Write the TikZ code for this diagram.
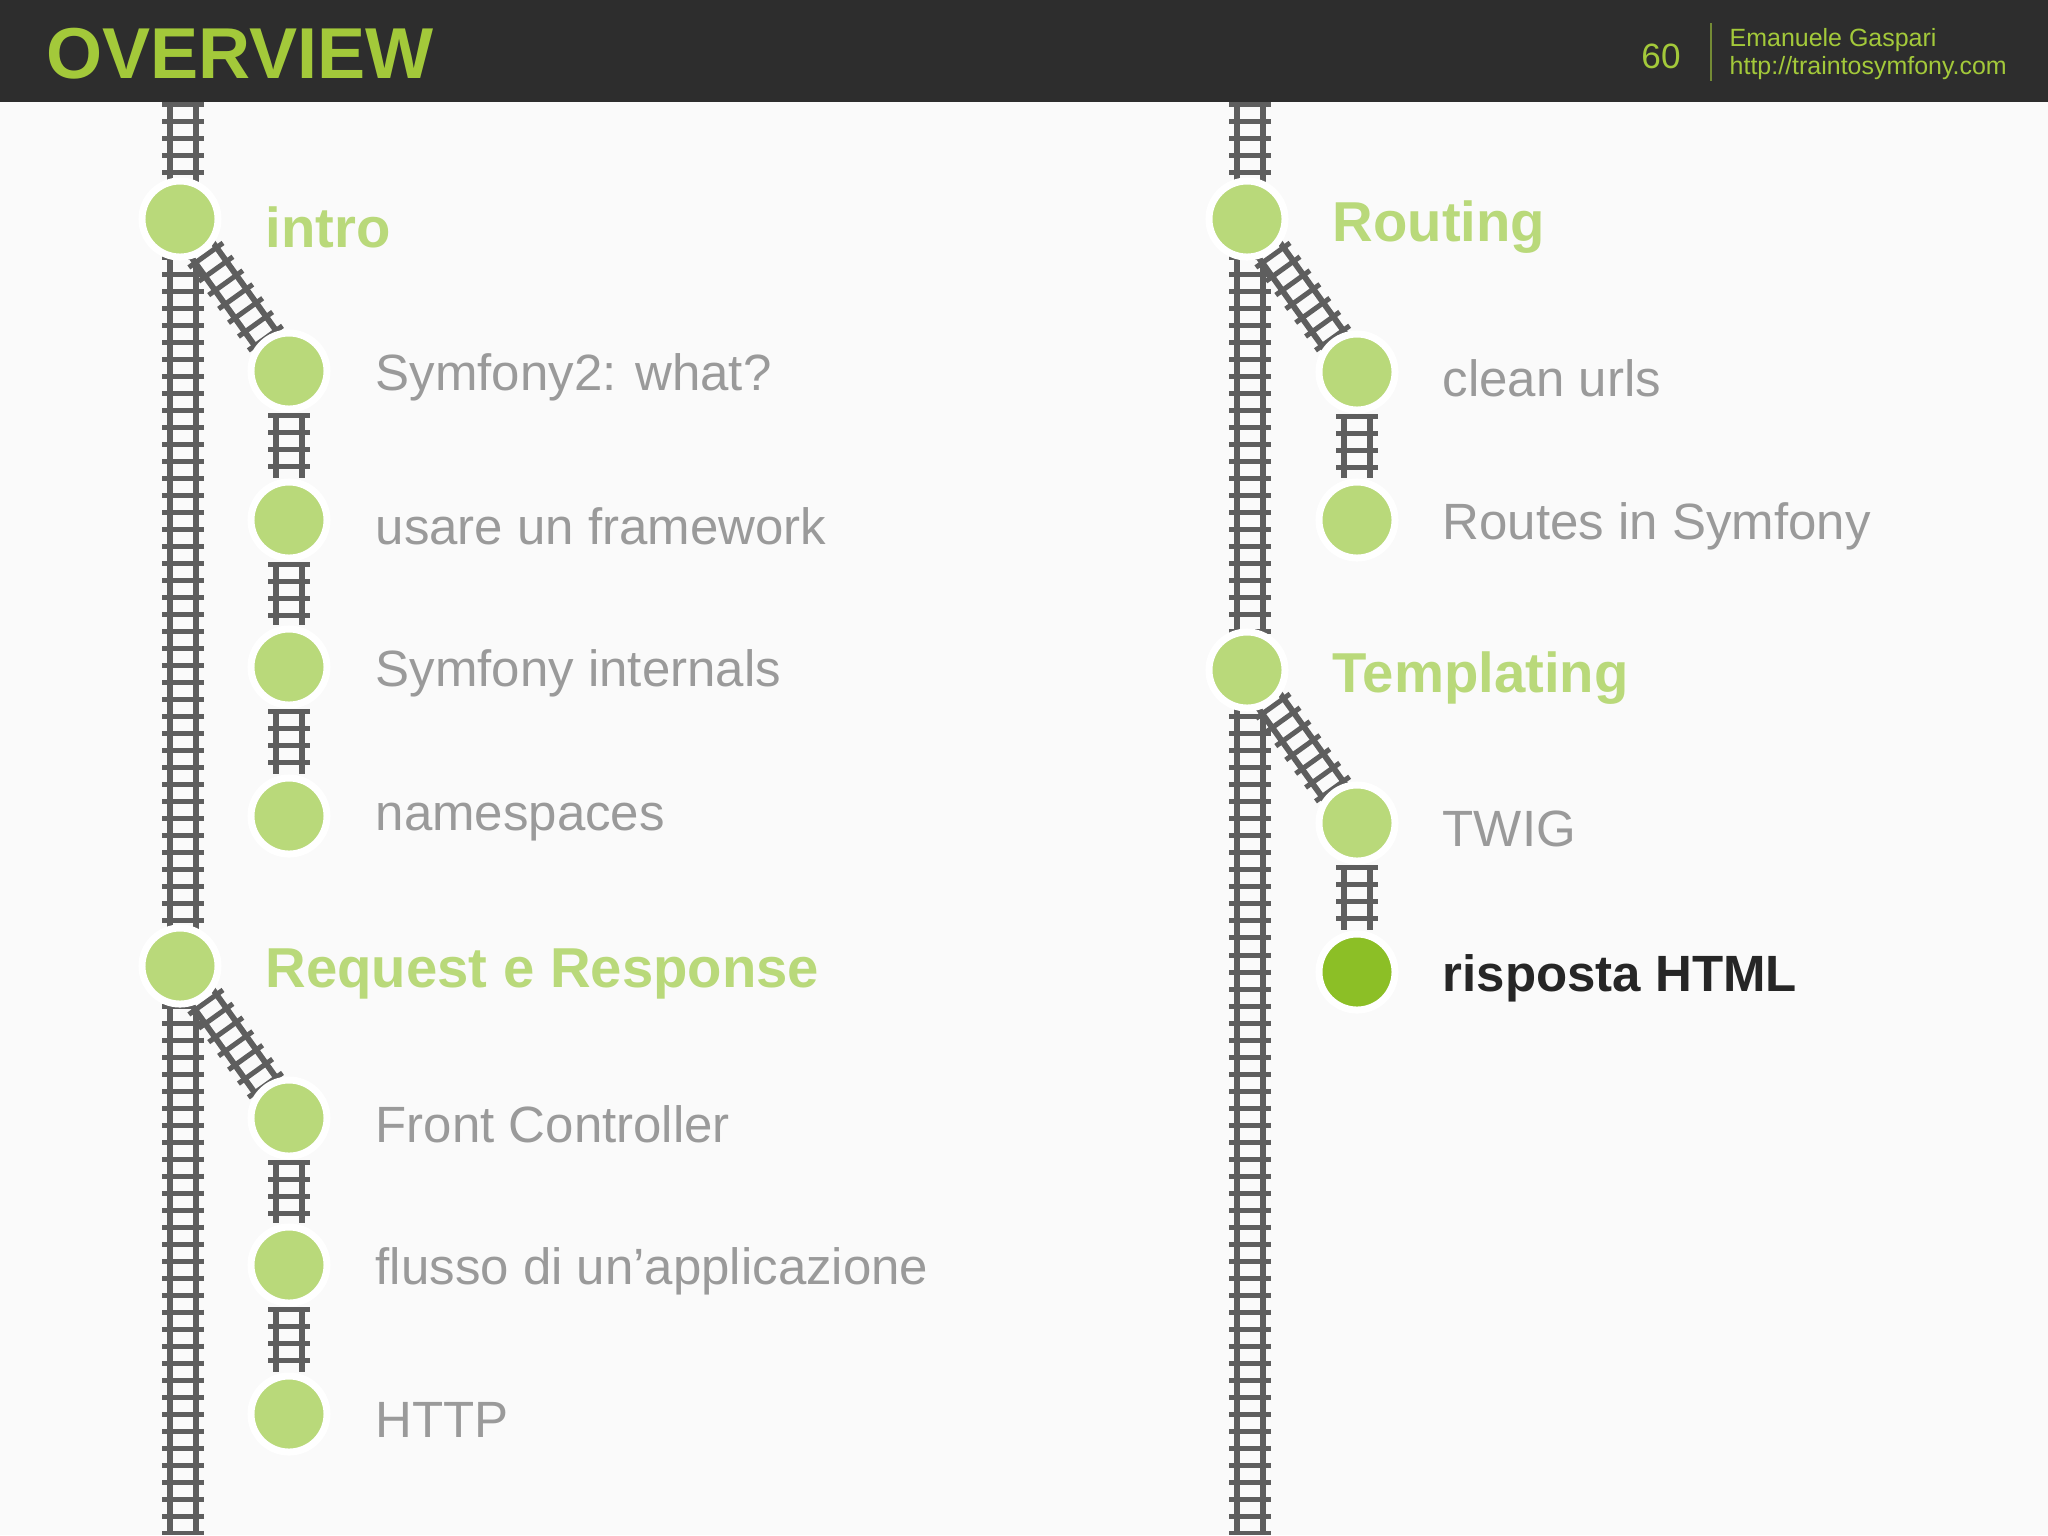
\documentclass[tikz,border=0pt]{standalone}
\usepackage{fontspec}
\defaultfontfeatures{}
\setmainfont{Liberation Sans}[Ligatures=ResetAll]
\definecolor{bg}{HTML}{FAFAFA}
\definecolor{hdr}{HTML}{2D2D2D}
\definecolor{hgreen}{HTML}{A3C93A}
\definecolor{lgreen}{HTML}{B9D97A}
\definecolor{dgreen}{HTML}{8CBF26}
\definecolor{rail}{HTML}{5E5E5E}
\definecolor{sub}{HTML}{9A9A9A}
\begin{document}
\begin{tikzpicture}[x=0.01cm,y=-0.01cm,
  track/.style={draw=rail,line width=0.32cm,
    postaction={draw=bg,line width=0.20cm},
    postaction={draw=rail,line width=0.42cm,dash pattern=on 0.05cm off 0.12cm}},
  stop/.style={circle,fill=lgreen,draw=white,line width=0.07cm,minimum size=0.76cm,inner sep=0pt},
  cur/.style={stop,fill=dgreen},
  sublbl/.style={anchor=west,inner sep=0pt,text=sub,font=\fontsize{14.5pt}{16pt}\selectfont},
  title/.style={anchor=west,inner sep=0pt,text=lgreen,font=\fontsize{16pt}{18pt}\selectfont\bfseries},
  hl/.style={anchor=west,inner sep=0pt,text=black!85,font=\fontsize{14.5pt}{16pt}\selectfont\bfseries}]
\useasboundingbox (0,0) rectangle (2048,1535);
\fill[bg] (0,0) rectangle (2048,1535);
\fill[hdr] (0,0) rectangle (2048,102);
\node[anchor=west,inner sep=0pt,text=hgreen,font=\fontsize{20.5pt}{22pt}\selectfont\bfseries] (ov) at (46,54) {OVERVIEW};
\node[text=hgreen,font=\fontsize{10pt}{12pt}\selectfont] (pg) at (1661,56) {60};
\coordinate (d1) at (1711,23); \coordinate (d2) at (1711,81);
\draw[hgreen!60!hdr,line width=0.5pt] (d1) -- (d2);
\node[anchor=west,inner sep=0pt,text=hgreen,font=\fontsize{7.1pt}{9pt}\selectfont] (nm) at (1729,40) {Emanuele Gaspari};
\node[anchor=west,inner sep=0pt,text=hgreen,font=\fontsize{7.1pt}{9pt}\selectfont] (url) at (1729,68) {http://traintosymfony.com};
% coordinates
\coordinate (lt) at (183,102); \coordinate (lb) at (183,1535);
\coordinate (rt) at (1250,102); \coordinate (rb) at (1250,1535);
\coordinate (A) at (180,219); \coordinate (B) at (180,966);
\coordinate (a1) at (289,371); \coordinate (a2) at (289,520); \coordinate (a3) at (289,667); \coordinate (a4) at (289,816);
\coordinate (b1) at (289,1118); \coordinate (b2) at (289,1265); \coordinate (b3) at (289,1414);
\coordinate (C) at (1247,219); \coordinate (D) at (1247,670);
\coordinate (c1) at (1357,372); \coordinate (c2) at (1357,520);
\coordinate (e1) at (1357,823); \coordinate (e2) at (1357,972);
% tracks
\path[track] (lt) -- (lb);
\path[track] (rt) -- (rb);
\path[track,shorten <=0.25cm,shorten >=0.3cm] (A) -- (a1);
\path[track,shorten <=0.25cm,shorten >=0.3cm] (B) -- (b1);
\path[track,shorten <=0.25cm,shorten >=0.3cm] (C) -- (c1);
\path[track,shorten <=0.25cm,shorten >=0.3cm] (D) -- (e1);
\foreach \p/\q in {a1/a2,a2/a3,a3/a4,b1/b2,b2/b3,c1/c2,e1/e2}
  \path[track,shorten <=0.42cm,shorten >=0.42cm] (\p) -- (\q);
% stops
\node[stop] (nA) at (A) {}; \node[title] at (265,227) {intro};
\node[stop] (nB) at (B) {}; \node[title] at (265,974) {Request e Response};
\node[stop] (na1) at (a1) {}; \node[sublbl] at (375,377) {Symfony2: what?};
\node[stop] (na2) at (a2) {}; \node[sublbl] at (375,526) {usare un framework};
\node[stop] (na3) at (a3) {}; \node[sublbl] at (375,673) {Symfony internals};
\node[stop] (na4) at (a4) {}; \node[sublbl] at (375,822) {namespaces};
\node[stop] (nb1) at (b1) {}; \node[sublbl] at (375,1124) {Front Controller};
\node[stop] (nb2) at (b2) {}; \node[sublbl] at (375,1271) {flusso di un'applicazione};
\node[stop] (nb3) at (b3) {}; \node[sublbl] at (375,1420) {HTTP};
\node[stop] (nC) at (C) {}; \node[title] at (1332,227) {Routing};
\node[stop] (nD) at (D) {}; \node[title] at (1332,678) {Templating};
\node[stop] (nc1) at (c1) {}; \node[sublbl] at (1442,378) {clean urls};
\node[stop] (nc2) at (c2) {}; \node[sublbl] at (1442,526) {Routes in Symfony};
\node[stop] (ne1) at (e1) {}; \node[sublbl] at (1442,829) {TWIG};
\node[cur] (ne2) at (e2) {}; \node[hl] at (1442,978) {risposta HTML};
\end{tikzpicture}
\end{document}
